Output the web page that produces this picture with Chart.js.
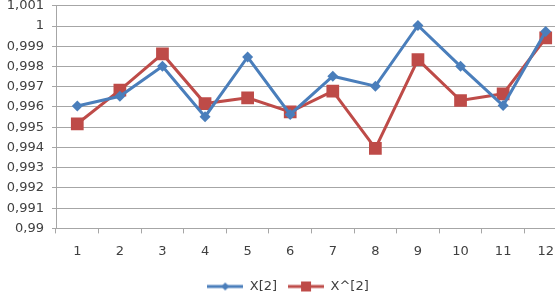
<!DOCTYPE html>
<html>
<head>
<meta charset="utf-8">
<script src="https://cdn.jsdelivr.net/npm/chart.js@4/dist/chart.umd.min.js"></script>
<style>
  html, body { margin: 0; padding: 0; background: #fff; overflow: hidden; }
  #wrap { width: 576px; height: 317px; margin-top: -10px; }
</style>
</head>
<body>
<div id="wrap"><canvas id="chart"></canvas></div>
<script>
// data
var categories = ['1','2','3','4','5','6','7','8','9','10','11','12'];
var seriesX2  = [0.99605, 0.99653, 0.99801, 0.99552, 0.99847, 0.99563, 0.99752, 0.99703, 1.00003, 0.99801, 0.99607, 0.99973];
var seriesXh2 = [0.99517, 0.99683, 0.99862, 0.99617, 0.99645, 0.99576, 0.99678, 0.99395, 0.99834, 0.99632, 0.99665, 0.99941];
var seriesNames = ['X[2]', 'X^[2]'];

var blue = '#4a7ebb', red = '#be4b48';

// little legend samples: line with the marker in the middle
function legendIcon(color, shape) {
    var c = document.createElement('canvas');
    c.width = 36; c.height = 14;
    var g = c.getContext('2d');
    g.strokeStyle = color; g.lineWidth = 3;
    g.beginPath(); g.moveTo(0, 7); g.lineTo(36, 7); g.stroke();
    g.fillStyle = color;
    if (shape === 'diamond') {
        g.beginPath(); g.moveTo(18, 3); g.lineTo(22, 7); g.lineTo(18, 11); g.lineTo(14, 7); g.closePath(); g.fill();
    } else {
        g.fillRect(13, 2, 10, 10);
    }
    return c;
}
var icons = [legendIcon(blue, 'diamond'), legendIcon(red, 'square')];

function fmt(v) {
    var s = (+v.toFixed(3)).toString();
    return s.replace('.', ',');
}

var ctx = document.getElementById('chart').getContext('2d');
window.myChart = new Chart(ctx, {
    type: 'line',
    data: {
        labels: categories,
        datasets: [{
            label: seriesNames[0],
            data: seriesX2,
            borderColor: blue,
            backgroundColor: blue,
            pointBackgroundColor: blue,
            pointBorderWidth: 0,
            borderWidth: 3,
            pointStyle: 'rectRot',
            pointRadius: 5.5,
            pointHoverRadius: 5.5,
            tension: 0
        }, {
            label: seriesNames[1],
            data: seriesXh2,
            borderColor: red,
            backgroundColor: red,
            pointBackgroundColor: red,
            pointBorderWidth: 0,
            borderWidth: 3,
            pointStyle: 'rect',
            pointRadius: 9,
            pointHoverRadius: 9,
            tension: 0
        }]
    },
    options: {
        responsive: true,
        maintainAspectRatio: false,
        animation: false,
        layout: { padding: { top: 0, left: 0, right: 0, bottom: 4 } },
        plugins: {
            tooltip: { enabled: false },
            legend: {
                position: 'bottom',
                labels: {
                    color: '#404040',
                    font: { family: 'DejaVu Sans', size: 13 },
                    usePointStyle: true,
                    pointStyleWidth: 36,
                    boxHeight: 14,
                    padding: 11,
                    generateLabels: function (chart) {
                        return chart.data.datasets.map(function (ds, i) {
                            return {
                                text: ds.label,
                                pointStyle: icons[i],
                                fillStyle: ds.borderColor,
                                strokeStyle: ds.borderColor,
                                lineWidth: 0,
                                fontColor: '#404040',
                                datasetIndex: i
                            };
                        });
                    }
                }
            }
        },
        scales: {
            x: {
                offset: true,
                grid: { offset: true, drawOnChartArea: false, tickLength: 5, color: '#a6a6a6' },
                border: { color: '#a6a6a6' },
                ticks: { color: '#404040', font: { family: 'DejaVu Sans', size: 13 }, padding: 10, maxRotation: 0 }
            },
            y: {
                min: 0.99,
                max: 1.001,
                grid: { color: '#a6a6a6', tickLength: 4 },
                border: { color: '#a6a6a6' },
                afterFit: function (s) { s.width = 56; },
                ticks: {
                    stepSize: 0.001,
                    color: '#404040',
                    font: { family: 'DejaVu Sans', size: 13 },
                    padding: 8,
                    callback: function (v) { return fmt(v); }
                }
            }
        }
    }
});
</script>
</body>
</html>
